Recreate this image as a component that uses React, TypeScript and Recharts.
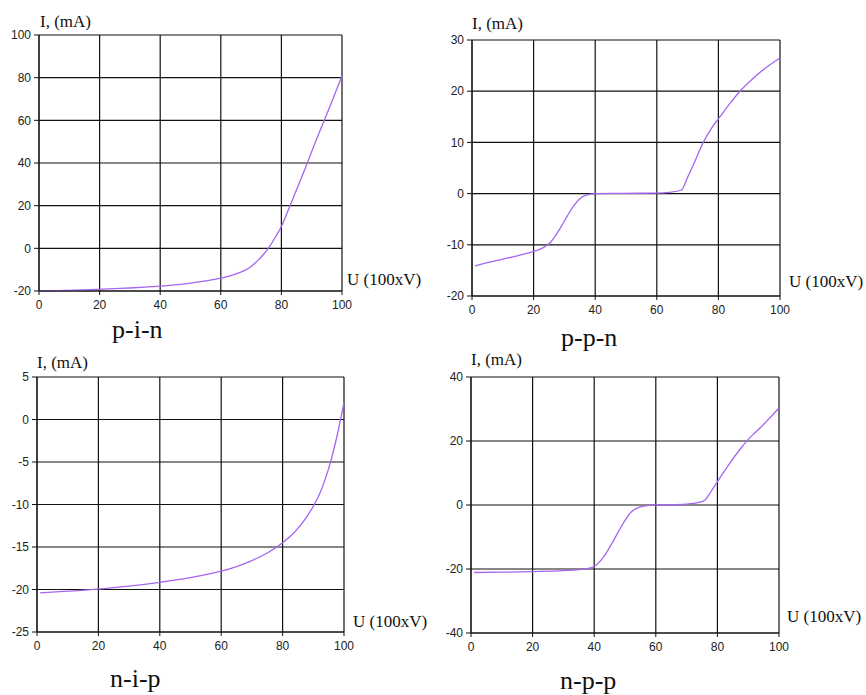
import { LineChart, Line, XAxis, YAxis, CartesianGrid } from "recharts";

// U axis values (x100 V) and currents (mA) for each structure
const PIN_U = [0, 5, 10, 15, 20, 25, 30, 35, 40, 45, 50, 55, 60, 65, 70, 72, 74, 76, 78, 80, 82, 85, 88, 91, 94, 97, 100];
const PIN_I = [-20, -19.9, -19.7, -19.5, -19.2, -18.9, -18.6, -18.2, -17.7, -17.1, -16.3, -15.3, -14.0, -12.0, -8.5, -6.0, -3.0, 0.7, 5.2, 10.2, 17, 27.5, 38, 49, 59.5, 70, 80.8];

const PPN_U = [1, 5, 10, 15, 20, 23, 25, 27, 29, 31, 33, 35, 37, 40, 50, 60, 64, 68, 70, 72, 75, 78, 80, 84, 87, 90, 95, 100];
const PPN_I = [-14.1, -13.5, -12.8, -12.1, -11.3, -10.6, -9.8, -8.3, -6.4, -4.3, -2.4, -1.0, -0.3, 0, 0.05, 0.1, 0.25, 0.7, 3.2, 5.8, 9.9, 13.0, 14.6, 17.8, 20.0, 21.8, 24.4, 26.5];

const NIP_U = [1, 10, 20, 30, 40, 50, 60, 65, 70, 75, 80, 84, 87, 90, 92, 94, 96, 98, 100];
const NIP_I = [-20.4, -20.2, -19.95, -19.6, -19.15, -18.6, -17.85, -17.3, -16.6, -15.7, -14.5, -13.2, -11.9, -10.2, -8.8, -6.9, -4.5, -1.5, 2.0];

const NPP_U = [1, 10, 20, 30, 35, 38, 40, 43, 46, 48, 50, 52, 55, 58, 60, 70, 74, 76, 78, 80, 82, 84, 86, 88, 90, 92, 94, 96, 98, 100];
const NPP_I = [-21.1, -21.0, -20.8, -20.5, -20.2, -19.8, -19.2, -16.3, -11.6, -8.1, -4.8, -2.2, -0.6, -0.1, 0, 0.3, 0.8, 1.6, 4.3, 7.3, 10.2, 13.0, 15.7, 18.2, 20.5, 22.4, 24.2, 26.2, 28.2, 30.3];

const U_TICKS = [0, 20, 40, 60, 80, 100];
const PIN_TICKS = [-20, 0, 20, 40, 60, 80, 100];
const PPN_TICKS = [-20, -10, 0, 10, 20, 30];
const NIP_TICKS = [-25, -20, -15, -10, -5, 0, 5];
const NPP_TICKS = [-40, -20, 0, 20, 40];

const LINE_COLOR = "#a566f0";
const SANS = "Liberation Sans, Arial, sans-serif";
const SERIF = "Liberation Serif, Times New Roman, Times, serif";

const Y_W = 39;
const PAD = 10;
const X_H = 30;

type Box = { left: number; top: number; right: number; bottom: number };

function zip(u: number[], i: number[]) {
  return u.map((v, k) => ({ u: v, i: i[k] }));
}

function Panel({ box, u, i, ticks }: { box: Box; u: number[]; i: number[]; ticks: number[] }) {
  const data = zip(u, i);
  const w = box.right - box.left + Y_W + PAD;
  const h = box.bottom - box.top + PAD + X_H;
  const tickStyle = { fill: "#222", fontSize: 12, fontFamily: SANS };
  const domain = [ticks[0], ticks[ticks.length - 1]];
  return (
    <div style={{ position: "absolute", left: box.left - Y_W, top: box.top - PAD }}>
      <LineChart width={w} height={h} data={data} margin={{ top: PAD, right: 0, bottom: 0, left: 0 }}>
        <CartesianGrid yAxisId="l" stroke="#111" strokeWidth={1.2} />
        <XAxis
          dataKey="u"
          type="number"
          domain={[0, 100]}
          ticks={U_TICKS}
          height={X_H}
          tick={tickStyle}
          tickSize={4}
          tickMargin={5}
          stroke="#111"
          interval={0}
        />
        <YAxis
          yAxisId="l"
          type="number"
          domain={domain}
          ticks={ticks}
          width={Y_W}
          tick={tickStyle}
          tickSize={5}
          tickMargin={3}
          stroke="#111"
          interval={0}
        />
        {/* short stubs past the right edge of the grid */}
        <YAxis
          yAxisId="r"
          orientation="right"
          type="number"
          domain={domain}
          ticks={ticks}
          width={PAD}
          tick={() => <g />}
          tickSize={3}
          axisLine={false}
          stroke="#111"
          interval={0}
        />
        <Line
          yAxisId="l"
          type="monotone"
          dataKey="i"
          stroke={LINE_COLOR}
          strokeWidth={1.3}
          dot={false}
          isAnimationActive={false}
        />
      </LineChart>
    </div>
  );
}

function Label({ x, y, size, children }: { x: number; y: number; size: number; children: string }) {
  return (
    <text x={x} y={y} fontFamily={SERIF} fontSize={size} fill="#111">
      {children}
    </text>
  );
}

export default function App() {
  return (
    <div style={{ position: "absolute", left: 0, top: 0, width: 866, height: 695, background: "#fff" }}>
      <Panel box={{ left: 39, top: 35, right: 342, bottom: 291 }} u={PIN_U} i={PIN_I} ticks={PIN_TICKS} />
      <Panel box={{ left: 472, top: 40, right: 780, bottom: 296 }} u={PPN_U} i={PPN_I} ticks={PPN_TICKS} />
      <Panel box={{ left: 37, top: 377, right: 344, bottom: 632 }} u={NIP_U} i={NIP_I} ticks={NIP_TICKS} />
      <Panel box={{ left: 471, top: 377, right: 779, bottom: 633 }} u={NPP_U} i={NPP_I} ticks={NPP_TICKS} />
      <svg width={866} height={695} style={{ position: "absolute", left: 0, top: 0, pointerEvents: "none" }}>
        <Label x={40} y={27} size={17}>I, (mA)</Label>
        <Label x={347} y={285} size={17}>U (100xV)</Label>
        <Label x={112} y={338} size={26}>p-i-n</Label>

        <Label x={472} y={29} size={17}>I, (mA)</Label>
        <Label x={789} y={287} size={17}>U (100xV)</Label>
        <Label x={561} y={346} size={26}>p-p-n</Label>

        <Label x={37} y={368} size={17}>I, (mA)</Label>
        <Label x={353} y={627} size={17}>U (100xV)</Label>
        <Label x={110} y={687} size={26}>n-i-p</Label>

        <Label x={471} y={365} size={17}>I, (mA)</Label>
        <Label x={787} y={622} size={17}>U (100xV)</Label>
        <Label x={560} y={689} size={26}>n-p-p</Label>
      </svg>
    </div>
  );
}
